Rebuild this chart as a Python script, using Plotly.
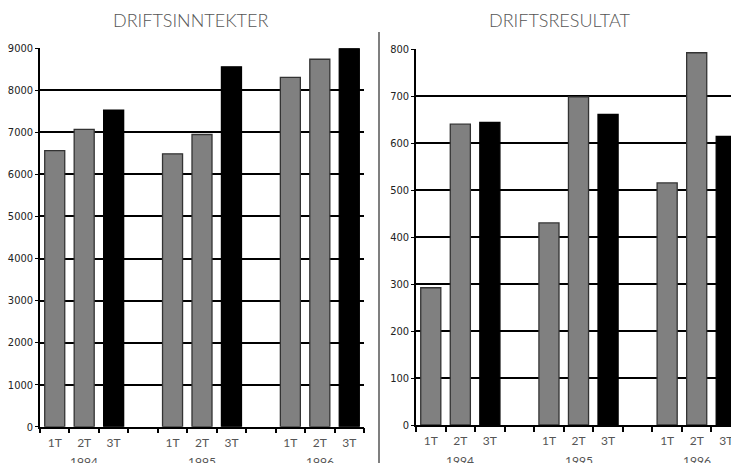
import plotly.graph_objects as go

years = ["1994", "1995", "1996"]
quarters = ["1T", "2T", "3T"]
driftsinntekter = [6565, 7070, 7530, 6490, 6950, 8560, 8310, 8740, 9000]
driftsresultat = [292, 640, 644, 430, 698, 661, 515, 792, 614]
titles = ["DRIFTSINNTEKTER", "DRIFTSRESULTAT"]
y_ticks_left = [0, 1000, 2000, 3000, 4000, 5000, 6000, 7000, 8000, 9000]
y_ticks_right = [0, 100, 200, 300, 400, 500, 600, 700, 800]

W, H = 731, 463

# build categories with a blank slot between years
cats, labels = [], []
for yi, yr in enumerate(years):
    for q in quarters:
        cats.append(f"{yr} {q}")
        labels.append(q)
    if yi < len(years) - 1:
        cats.append(f"gap{yi}")
        labels.append("")

bar_cats = [c for c in cats if not c.startswith("gap")]
bar_colors = ["#000000" if c.endswith("3T") else "#808080" for c in bar_cats]
line_colors = ["#000000" if c.endswith("3T") else "#333333" for c in bar_cats]

fig = go.Figure()
for i, vals in enumerate([driftsinntekter, driftsresultat]):
    sfx = "" if i == 0 else "2"
    fig.add_trace(go.Bar(
        x=bar_cats, y=vals, xaxis="x" + sfx, yaxis="y" + sfx,
        marker=dict(color=bar_colors, line=dict(color=line_colors, width=1.3)),
        width=0.68, showlegend=False, hoverinfo="x+y",
    ))

tickfont_y = dict(family="Liberation Sans Narrow, DejaVu Sans Condensed, Arial Narrow, sans-serif", size=11, color="#222")
tickfont_x = dict(family="Lato, Open Sans, sans-serif", size=12, color="#555")

def xax(domain, rng, anchor):
    return dict(domain=domain, type="category", categoryorder="array", categoryarray=cats,
                tickmode="array", tickvals=cats, ticktext=labels, tickson="boundaries",
                ticks="outside", ticklen=5, tickcolor="#000", tickwidth=1.5,
                showline=True, linecolor="#000", linewidth=1.5, showgrid=False,
                tickfont=tickfont_x, range=rng, fixedrange=True, anchor=anchor,
                automargin=False, ticklabelstandoff=4)

def yax(domain, rng, vals, anchor):
    return dict(domain=domain, range=rng, tickvals=vals, ticks="outside", ticklen=3,
                tickcolor="#000", showline=True, linecolor="#000", linewidth=1.5,
                showgrid=True, gridcolor="#000", gridwidth=2, zeroline=False,
                tickfont=tickfont_y, anchor=anchor, fixedrange=True, automargin=False)

n = len(cats)
fig.update_layout(
    width=W, height=H, autosize=False, margin=dict(l=0, r=0, t=0, b=0, pad=0),
    paper_bgcolor="white", plot_bgcolor="white",
    xaxis=xax([40 / W, 364 / W], [-0.5, n - 0.5], "y"),
    yaxis=yax([(H - 426.7) / H, (H - 48.3) / H], [0, 9000], y_ticks_left, "x"),
    xaxis2=xax([416 / W, 1.0], [-0.5, n - 0.5 - 10 / 29.5], "y2"),
    yaxis2=yax([(H - 425) / H, (H - 49) / H], [0, 800], y_ticks_right, "x2"),
)

annotations = []
for xa, ya in [("x", "y"), ("x2", "y2")]:
    for yr in years:
        annotations.append(dict(x=f"{yr} 2T", y=0, xref=xa, yref=ya, text=yr, showarrow=False,
                                yshift=-35, font=tickfont_x))
title_font = dict(family="Lato, sans-serif", size=18, color="#555", weight=300)
annotations.append(dict(x=190 / W, y=1 - 20 / H, xref="paper", yref="paper", text=titles[0],
                        xanchor="center", yanchor="middle", showarrow=False, font=title_font))
annotations.append(dict(x=560 / W, y=1 - 20 / H, xref="paper", yref="paper", text=titles[1],
                        xanchor="center", yanchor="middle", showarrow=False, font=title_font))
fig.update_layout(annotations=annotations)

fig.add_shape(type="line", xref="paper", yref="paper", x0=379 / W, x1=379 / W,
              y0=0, y1=1 - 32 / H, line=dict(color="#555", width=1.5))

fig.write_html("out.html", config={"displayModeBar": False},
               post_script="document.body.style.margin='0';document.body.style.overflow='hidden';")
